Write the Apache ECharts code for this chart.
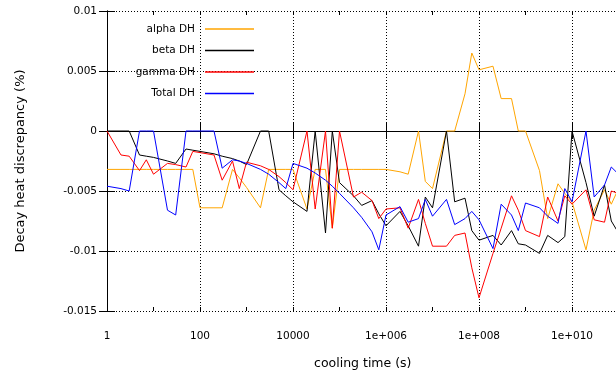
<!DOCTYPE html>
<html>
<head>
<meta charset="utf-8">
<script src="https://cdn.jsdelivr.net/npm/echarts@6/dist/echarts.min.js"></script>
<style>
  html, body { margin: 0; padding: 0; background: #fff; }
  #chart { width: 616px; height: 377px; }
</style>
</head>
<body>
<div id="chart"></div>
<script>
// cooling times (s): 1,2,3,5,7 per decade
var coolingTime = [
  1, 2, 3, 5, 7,
  1e1, 2e1, 3e1, 5e1, 7e1,
  1e2, 2e2, 3e2, 5e2, 7e2,
  1e3, 2e3, 3e3, 5e3, 7e3,
  1e4, 2e4, 3e4, 5e4, 7e4,
  1e5, 2e5, 3e5, 5e5, 7e5,
  1e6, 2e6, 3e6, 5e6, 7e6,
  1e7, 2e7, 3e7, 5e7, 7e7,
  1e8, 2e8, 3e8, 5e8, 7e8,
  1e9, 2e9, 3e9, 5e9, 7e9,
  1e10, 2e10, 3e10, 5e10, 7e10,
  1e11
];

var alphaDH = [
  -0.0032, -0.0032, -0.0032, -0.0032, -0.0032,
  -0.0032, -0.0032, -0.0032, -0.0032, -0.0032,
  -0.0064, -0.0064, -0.0064, -0.0032, -0.0039,
  -0.0047, -0.0064, -0.0032, -0.0032, -0.0032,
  -0.0032, -0.0065, -0.0032, -0.0032, -0.0081,
  -0.0032, -0.0032, -0.0032, -0.0032, -0.0032,
  -0.0032, -0.0034, -0.0036, 0, -0.0042,
  -0.0048, 0, 0, 0.0031, 0.0065,
  0.0051, 0.0054, 0.0027, 0.0027, 0,
  0, -0.0033, -0.0073, -0.0044, -0.0052,
  -0.0059, -0.0099, -0.0066, -0.0049, -0.0061,
  -0.0048
];

var betaDH = [
  0, 0, 0, -0.002, -0.0021,
  -0.0022, -0.0025, -0.0027, -0.0015, -0.0016,
  -0.0017, -0.0019, -0.0021, -0.0023, -0.0025,
  -0.0028, 0, 0, -0.0049, -0.0054,
  -0.0059, -0.0067, 0, -0.0085, 0,
  -0.0043, -0.0054, -0.0062, -0.0058, -0.0069,
  -0.0079, -0.0067, -0.0079, -0.0096, -0.0055,
  -0.0064, 0, -0.0059, -0.0056, -0.0083,
  -0.0091, -0.0087, -0.0095, -0.0083, -0.0094,
  -0.0095, -0.0102, -0.0087, -0.0093, -0.0088,
  0, -0.0043, -0.0071, -0.0045, -0.0075,
  -0.0085
];

var gammaDH = [
  0, -0.002, -0.0021, -0.0033, -0.0024,
  -0.0036, -0.0027, -0.0028, -0.003, -0.0017,
  -0.0018, -0.002, -0.0041, -0.0025, -0.0048,
  -0.0026, -0.0029, -0.0032, -0.0038, -0.0043,
  -0.0049, 0, -0.0065, 0, -0.0081,
  0, -0.0055, -0.0051, -0.0058, -0.0073,
  -0.0065, -0.0064, -0.0081, -0.0057, -0.0077,
  -0.0096, -0.0096, -0.0087, -0.0085, -0.0114,
  -0.0139, -0.0102, -0.0081, -0.0054, -0.0066,
  -0.0083, -0.0088, -0.0055, -0.0075, -0.0054,
  -0.0061, -0.0049, -0.0074, -0.0076, -0.005,
  -0.0052
];

var totalDH = [
  -0.0046, -0.0048, -0.005, 0, 0,
  0, -0.0066, -0.007, 0, 0,
  0, 0, -0.0031, -0.0024, -0.0025,
  -0.0027, -0.0032, -0.0036, -0.0043, -0.0048,
  -0.0027, -0.0031, -0.0035, -0.0041, -0.0046,
  -0.0052, -0.0064, -0.0072, -0.0084, -0.0099,
  -0.007, -0.0063, -0.0076, -0.0073, -0.0057,
  -0.0071, -0.0057, -0.0078, -0.0073, -0.0067,
  -0.0074, -0.0098, -0.0061, -0.007, -0.0083,
  -0.006, -0.0064, -0.0071, -0.0077, -0.0048,
  -0.0059, 0, -0.0055, -0.0045, -0.003,
  -0.0036
];

var seriesNames = ['alpha DH', 'beta DH', 'gamma DH', 'Total DH'];
var seriesColors = ['#ffa500', '#000000', '#ff0000', '#0000ff'];
var seriesValues = [alphaDH, betaDH, gammaDH, totalDH];

var xTickLabels = { 0: '1', 2: '100', 4: '10000', 6: '1e+006', 8: '1e+008', 10: '1e+010' };

var font = 'DejaVu Sans';
var legendTops = [23.5, 45, 66.5, 88];

function toPoints(vals) {
  return coolingTime.map(function (t, i) { return [Math.log10(t), vals[i]]; });
}

var chart = echarts.init(document.getElementById('chart'));

var dotted = { color: '#000', width: 1, type: [1, 2] };

function xAx(pos, interval, tickLen, main) {
  return {
    type: 'value', position: pos, min: 0, max: 11, interval: interval,
    axisLine: { show: main, lineStyle: { color: '#000', width: 1 } },
    axisTick: { show: true, inside: true, length: tickLen, lineStyle: { color: '#000' } },
    axisLabel: { show: false },
    splitLine: { show: false }
  };
}

var bottomAxis = xAx('bottom', 2, 8, true);
bottomAxis.axisLabel = {
  show: true, margin: 20, color: '#000', fontFamily: font, fontSize: 10.5,
  formatter: function (v) { return xTickLabels[v] !== undefined ? xTickLabels[v] : ''; }
};
bottomAxis.splitLine = { show: true, lineStyle: dotted };
bottomAxis.name = 'cooling time (s)';
bottomAxis.nameLocation = 'middle';
bottomAxis.nameGap = 46;
bottomAxis.nameTextStyle = { color: '#000', fontFamily: font, fontSize: 12.5 };

var option = {
  animation: false,
  backgroundColor: '#fff',
  grid: { left: 107, top: 11, width: 511.5, height: 300, containLabel: false, outerBoundsMode: 'none' },
  legend: seriesNames.map(function (n, i) {
    return {
      data: [n], right: 362, top: legendTops[i], orient: 'vertical', align: 'right',
      padding: 0, itemWidth: 49, itemHeight: 1.5, icon: 'rect', selectedMode: false,
      textStyle: { color: '#000', fontFamily: font, fontSize: 10.5, padding: [0, 5, 0, 0] }
    };
  }),
  xAxis: [
    bottomAxis,
    xAx('top', 2, 8, true),
    xAx('top', 1, 4, false),
    xAx('bottom', 1, 4, false)
  ],
  yAxis: [
    {
      type: 'value', position: 'left', min: -0.015, max: 0.01, interval: 0.005,
      axisLine: { show: true, lineStyle: { color: '#000', width: 1 } },
      axisTick: { show: true, inside: true, length: 8, lineStyle: { color: '#000' } },
      axisLabel: {
        margin: 10, color: '#000', fontFamily: font, fontSize: 10.5,
        formatter: function (v) { return String(+v.toFixed(3)); }
      },
      splitLine: { show: true, lineStyle: dotted },
      name: 'Decay heat discrepancy (%)', nameLocation: 'middle', nameGap: 80,
      nameTextStyle: { color: '#000', fontFamily: font, fontSize: 13 }
    },
    {
      type: 'value', position: 'right', min: -0.015, max: 0.01, interval: 0.005,
      axisLine: { show: true, lineStyle: { color: '#000', width: 1 } },
      axisTick: { show: true, inside: true, length: 8, lineStyle: { color: '#000' } },
      axisLabel: { show: false },
      splitLine: { show: false }
    }
  ],
  series: seriesNames.map(function (n, i) {
    return {
      name: n, type: 'line', xAxisIndex: 0, yAxisIndex: 0,
      data: toPoints(seriesValues[i]),
      showSymbol: false, symbol: 'none',
      color: seriesColors[i],
      lineStyle: { color: seriesColors[i], width: 1 }
    };
  })
};

chart.setOption(option);
</script>
</body>
</html>
